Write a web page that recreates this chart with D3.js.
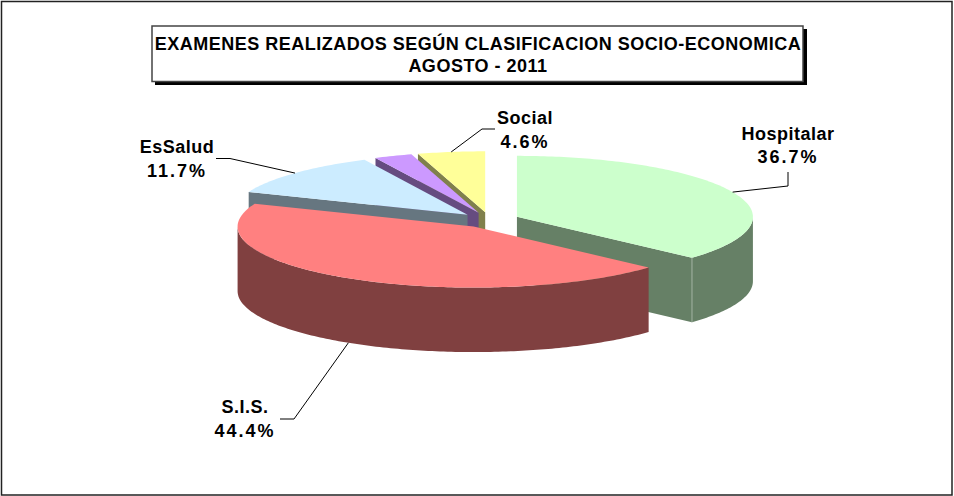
<!DOCTYPE html>
<html>
<head>
<meta charset="utf-8">
<script src="https://cdn.jsdelivr.net/npm/d3@7"></script>
<style>
  html, body { margin: 0; padding: 0; background: #fff; }
  text { font-family: "Liberation Sans", Arial, sans-serif; font-weight: bold; fill: #000; }
</style>
</head>
<body>
<svg id="chart" width="954" height="496"></svg>
<script>
var categories = ["Hospitalar", "S.I.S.", "EsSalud", "", "Social"];
var values = [36.7, 44.4, 11.7, 2.6, 4.6];
var topColors = ["#CCFFCC", "#FF8080", "#CCECFF", "#CC99FF", "#FFFF99"];
var wallColors = ["#668066", "#804040", "#667680", "#664C80", "#80804C"];
var titleLines = ["EXAMENES REALIZADOS SEGÚN CLASIFICACION SOCIO-ECONOMICA", "AGOSTO - 2011"];

// elbow of the leader, where it ends, and where the label sits
var leaders = [
  {elbow: [788, 186], end: [788, 172], label: [788, 139.5]},
  {elbow: [294, 419], end: [280, 419], label: [245, 413]},
  {elbow: [230, 158.5], end: [216, 158.5], label: [177, 153]},
  null,
  {elbow: [482, 129], end: [495, 129], label: [525, 124]}
];

var svg = d3.select("#chart");

var cx = 489.5, cy = 220, rx = 236, ry = 61, depth = 64.5, explode = 30;

var slices = d3.pie().sort(null).value(function(d){ return d; })(values);

// flat pie coordinates (-1..1) to page pixels
var xScale = d3.scaleLinear().domain([-1, 1]).range([cx - rx, cx + rx]);
var yScale = d3.scaleLinear().domain([-1, 1]).range([cy - ry, cy + ry]);
var line = d3.line();

var pt = function(s, angle, r, z){
  var mid = (s.startAngle + s.endAngle) / 2;
  var e = explode / rx;
  var u = Math.sin(angle) * r + Math.sin(mid) * e;
  var v = -Math.cos(angle) * r - Math.cos(mid) * e;
  return [xScale(u), yScale(v) + z];
};

var arcPts = function(s, a0, a1, z){
  var n = Math.max(2, Math.ceil(Math.abs(a1 - a0) * 60));
  return d3.range(n + 1).map(function(i){
    return pt(s, a0 + (a1 - a0) * i / n, 1, z);
  });
};

// background and frame
svg.append("rect").attr("x", 1.5).attr("y", 1.5).attr("width", 950.5).attr("height", 493.5)
  .attr("fill", "#fff").attr("stroke", "#222").attr("stroke-width", 1.5);

// back to front, S.I.S. is painted last
var order = [4, 3, 2, 0, 1];
order.forEach(function(i){
  var s = slices[i];
  var g = svg.append("g");
  var apex = pt(s, 0, 0, 0);
  var apexLow = pt(s, 0, 0, depth);

  // cut faces: left of the pie the start side shows, right of it the end side
  [s.startAngle, s.endAngle].forEach(function(angle, k){
    var shows = k === 0 ? Math.sin(angle) < -0.001 : Math.sin(angle) > 0.001;
    if (!shows) return;
    g.append("path")
      .attr("d", line([apex, pt(s, angle, 1, 0), pt(s, angle, 1, depth), apexLow]) + "Z")
      .attr("fill", wallColors[i]);
  });

  // outer wall, only the part that faces the viewer
  var w0 = Math.max(s.startAngle, Math.PI / 2);
  var w1 = Math.min(s.endAngle, Math.PI * 1.5);
  if (w1 > w0) {
    var upper = arcPts(s, w0, w1, 0);
    var lower = arcPts(s, w1, w0, depth);
    g.append("path").attr("d", line(upper.concat(lower)) + "Z")
      .attr("fill", wallColors[i]);
  }

  // top face
  var top = [apex].concat(arcPts(s, s.startAngle, s.endAngle, 0));
  g.append("path").attr("d", line(top) + "Z").attr("fill", topColors[i]);

  // seam between the cut face and the outer wall of Hospitalar
  if (i === 0) {
    var seam = pt(s, s.endAngle, 1, 0);
    g.append("line")
      .attr("x1", seam[0]).attr("x2", seam[0])
      .attr("y1", seam[1]).attr("y2", seam[1] + depth)
      .attr("stroke", "#a3b3a3").attr("stroke-width", 1);
  }
});

// leader lines and labels
slices.forEach(function(s, i){
  var l = leaders[i];
  if (!l) return;
  var mid = (s.startAngle + s.endAngle) / 2;
  var z = i === 1 ? depth : 0;
  var start = pt(s, mid, 1, z);
  svg.append("path").attr("d", line([start, l.elbow, l.end]))
    .attr("fill", "none").attr("stroke", "#000").attr("stroke-width", 1);
  var t = svg.append("text").attr("text-anchor", "middle")
    .attr("x", l.label[0]).attr("y", l.label[1]).attr("font-size", 18);
  t.append("tspan").attr("x", l.label[0]).attr("letter-spacing", 0.5).text(categories[i]);
  t.append("tspan").attr("x", l.label[0]).attr("dy", 23.7).attr("letter-spacing", 2)
    .text(values[i].toFixed(1) + "%");
});

// title box with its hard shadow
svg.append("rect").attr("x", 155).attr("y", 29).attr("width", 652).attr("height", 56).attr("fill", "#000");
svg.append("rect").attr("x", 152).attr("y", 26).attr("width", 651).attr("height", 55.5)
  .attr("fill", "#fff").attr("stroke", "#444").attr("stroke-width", 1.5);
titleLines.forEach(function(d, i){
  svg.append("text").attr("text-anchor", "middle").attr("letter-spacing", 0.5)
    .attr("x", 478).attr("y", 49.5 + i * 22).attr("font-size", 18).text(d);
});
</script>
</body>
</html>
